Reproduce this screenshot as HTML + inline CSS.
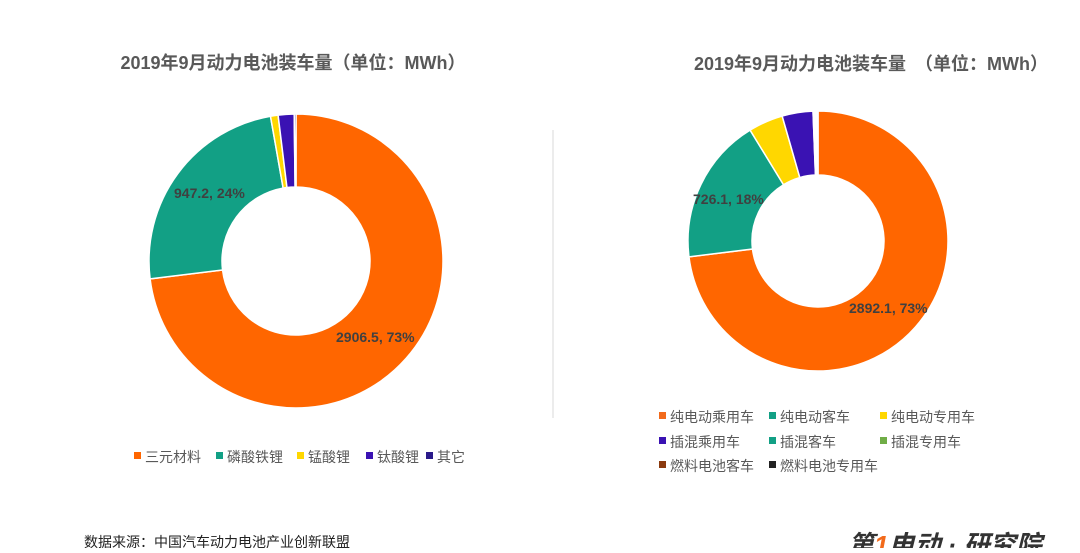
<!DOCTYPE html>
<html><head><meta charset="utf-8"><style>
body{margin:0;width:1080px;height:548px;background:#fff;overflow:hidden;font-family:"Liberation Sans","Noto Sans CJK SC",sans-serif;}
svg text{font-family:"Liberation Sans","Noto Sans CJK SC",sans-serif;}
</style></head><body>
<svg id="s" width="1080" height="548" xmlns="http://www.w3.org/2000/svg">
<text x="293" y="69" text-anchor="middle" font-size="18" font-weight="bold" fill="#595959">2019年9月动力电池装车量（单位：MWh）</text>
<text x="871" y="70" text-anchor="middle" font-size="18" font-weight="bold" fill="#595959">2019年9月动力电池装车量　（单位：MWh）</text>
<line x1="553" y1="130" x2="553" y2="418" stroke="#d9d9d9" stroke-width="1"/>
<g id="g1"></g><g id="g2"></g>
<text x="174" y="198" font-size="14" font-weight="bold" fill="#404040">947.2, 24%</text>
<text x="336" y="342" font-size="14" font-weight="bold" fill="#404040">2906.5, 73%</text>
<text x="693" y="204" font-size="14" font-weight="bold" fill="#404040">726.1, 18%</text>
<text x="849" y="313" font-size="14" font-weight="bold" fill="#404040">2892.1, 73%</text>
<g font-size="14" fill="#595959">
<rect x="134" y="452" width="7" height="7" fill="#ff6600"/><text x="145" y="462">三元材料</text>
<rect x="216" y="452" width="7" height="7" fill="#12a085"/><text x="227" y="462">磷酸铁锂</text>
<rect x="297" y="452" width="7" height="7" fill="#ffd700"/><text x="308" y="462">锰酸锂</text>
<rect x="366" y="452" width="7" height="7" fill="#3a12b3"/><text x="377" y="462">钛酸锂</text>
<rect x="426" y="452" width="7" height="7" fill="#2a1a8a"/><text x="437" y="462">其它</text>
<rect x="659" y="412" width="7" height="7" fill="#f26a1b"/><text x="670" y="422">纯电动乘用车</text>
<rect x="769" y="412" width="7" height="7" fill="#12a085"/><text x="780" y="422">纯电动客车</text>
<rect x="880" y="412" width="7" height="7" fill="#ffd700"/><text x="891" y="422">纯电动专用车</text>
<rect x="659" y="437" width="7" height="7" fill="#3a12b3"/><text x="670" y="447">插混乘用车</text>
<rect x="769" y="437" width="7" height="7" fill="#12a085"/><text x="780" y="447">插混客车</text>
<rect x="880" y="437" width="7" height="7" fill="#70ad47"/><text x="891" y="447">插混专用车</text>
<rect x="659" y="461" width="7" height="7" fill="#8b3a0e"/><text x="670" y="471">燃料电池客车</text>
<rect x="769" y="461" width="7" height="7" fill="#222"/><text x="780" y="471">燃料电池专用车</text>
</g>
<text x="84" y="547" font-size="14" fill="#222">数据来源：中国汽车动力电池产业创新联盟</text>
<text x="848" y="554" font-size="26" font-weight="bold" fill="#333" font-style="italic">第<tspan fill="#f26a1b">1</tspan>电动 · 研究院</text>
</svg>
<script>
function arc(cx,cy,R,r,a0,a1,c){var p=Math.PI/180,f=function(rr,a){return [cx+rr*Math.sin(a*p),cy-rr*Math.cos(a*p)]};
var l=(a1-a0)>180?1:0,A=f(R,a0),B=f(R,a1),C=f(r,a1),D=f(r,a0);
return '<path d="M'+A+' A'+R+','+R+' 0 '+l+' 1 '+B+' L'+C+' A'+r+','+r+' 0 '+l+' 0 '+D+'Z" fill="'+c+'" stroke="#fff" stroke-width="1.5"/>';}
var s1=[[0,263,'#ff6600'],[263,350,'#12a085'],[350,353,'#ffd700'],[353,359.3,'#3a12b3'],[359.3,360,'#2a1a8a']];
var s2=[[0,263,'#ff6600'],[263,328.5,'#12a085'],[328.5,344,'#ffd700'],[344,357.8,'#3a12b3'],[357.8,360,'#ffffff']];
document.getElementById('g1').innerHTML=s1.map(function(a){return arc(296,261,147,74,a[0],a[1],a[2])}).join('');
document.getElementById('g2').innerHTML=s2.map(function(a){return arc(818,241,130,66,a[0],a[1],a[2])}).join('');
</script>
</body></html>
